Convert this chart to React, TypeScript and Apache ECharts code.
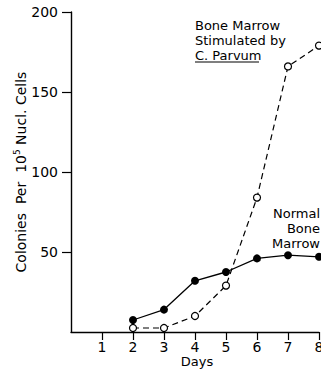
import React, { useEffect, useRef } from "react";
import * as echarts from "echarts";

const dayTicks = [1, 2, 3, 4, 5, 6, 7, 8];
const yTicks = [50, 100, 150, 200];
const normalDays = [2, 3, 4, 5, 6, 7, 8];
const normalValues = [7.5, 14, 32, 37.5, 46, 48, 47];
const stimDays = [2, 3, 4, 5, 6, 7, 8];
const stimValues = [2.5, 2.5, 10, 29, 84, 166, 179];

const FONT = "'DejaVu Sans', sans-serif";

export default function App() {
  const ref = useRef<HTMLDivElement>(null);
  useEffect(() => {
    if (!ref.current) return;
    const chart = echarts.init(ref.current, undefined, { renderer: "svg" });
    chart.setOption({
      animation: false,
      backgroundColor: "#fff",
      grid: { left: 71, right: 2, top: 12, bottom: 38, containLabel: false, outerBoundsMode: "none" },
      xAxis: {
        type: "value",
        min: 0,
        max: 8,
        interval: 1,
        axisLine: { show: true, lineStyle: { color: "#000", width: 1.4 } },
        axisTick: { show: true, customValues: dayTicks, length: 8, lineStyle: { color: "#000", width: 1.2 } },
        axisLabel: { customValues: dayTicks, margin: 8, lineHeight: 14, color: "#000", fontSize: 14, fontFamily: FONT },
        splitLine: { show: false },
      },
      yAxis: {
        type: "value",
        min: 0,
        max: 200,
        interval: 50,
        axisLine: { show: true, lineStyle: { color: "#000", width: 1.4 } },
        axisTick: { show: true, customValues: yTicks, length: 9, lineStyle: { color: "#000", width: 1.2 } },
        axisLabel: { customValues: yTicks, margin: 13, color: "#000", fontSize: 14, fontFamily: FONT },
        splitLine: { show: false },
      },
      series: [
        {
          name: "Normal Bone Marrow",
          type: "line",
          clip: false,
          data: normalDays.map((d, i) => [d, normalValues[i]]),
          symbol: "circle",
          symbolSize: 8,
          itemStyle: { color: "#000" },
          lineStyle: { color: "#000", width: 1.3, type: "solid" },
          z: 3,
        },
        {
          name: "Bone Marrow Stimulated by C. Parvum",
          type: "line",
          clip: false,
          data: stimDays.map((d, i) => [d, stimValues[i]]),
          symbol: "circle",
          symbolSize: 7,
          itemStyle: { color: "#fff", borderColor: "#000", borderWidth: 1.2 },
          lineStyle: { color: "#000", width: 1.2, type: [6, 4] },
          z: 2,
        },
      ],
      graphic: [
        {
          type: "text",
          x: 197,
          y: 361,
          style: {
            text: "Days",
            fontSize: 13,
            lineHeight: 13,
            fontFamily: FONT,
            fill: "#000",
            align: "center",
            verticalAlign: "middle",
          },
        },
        {
          type: "text",
          x: 21,
          y: 172,
          rotation: Math.PI / 2,
          style: {
            text: "{a|Colonies  Per  10}{s|5}{a| Nucl. Cells}",
            align: "center",
            verticalAlign: "middle",
            fill: "#000",
            rich: {
              a: { fontSize: 14, fontFamily: FONT, fill: "#000", lineHeight: 18 },
              s: { fontSize: 9, fontFamily: FONT, fill: "#000", verticalAlign: "top", lineHeight: 10 },
            },
          },
        },
        {
          type: "text",
          x: 195,
          y: 17.5,
          style: {
            text: "Bone Marrow\nStimulated by\nC. Parvum",
            fontSize: 13,
            fontFamily: FONT,
            lineHeight: 15,
            fill: "#000",
            align: "left",
            verticalAlign: "top",
          },
        },
        {
          type: "line",
          shape: { x1: 195, y1: 62, x2: 259, y2: 62 },
          style: { stroke: "#000", lineWidth: 1.2 },
        },
        {
          type: "text",
          x: 320,
          y: 205.5,
          style: {
            text: "Normal\nBone\nMarrow",
            fontSize: 13,
            fontFamily: FONT,
            lineHeight: 15,
            fill: "#000",
            align: "right",
            verticalAlign: "top",
          },
        },
      ],
    });
    return () => chart.dispose();
  }, []);
  return (
    <div
      ref={ref}
      style={{ position: "fixed", left: 0, top: 0, width: 321, height: 370 }}
    />
  );
}
